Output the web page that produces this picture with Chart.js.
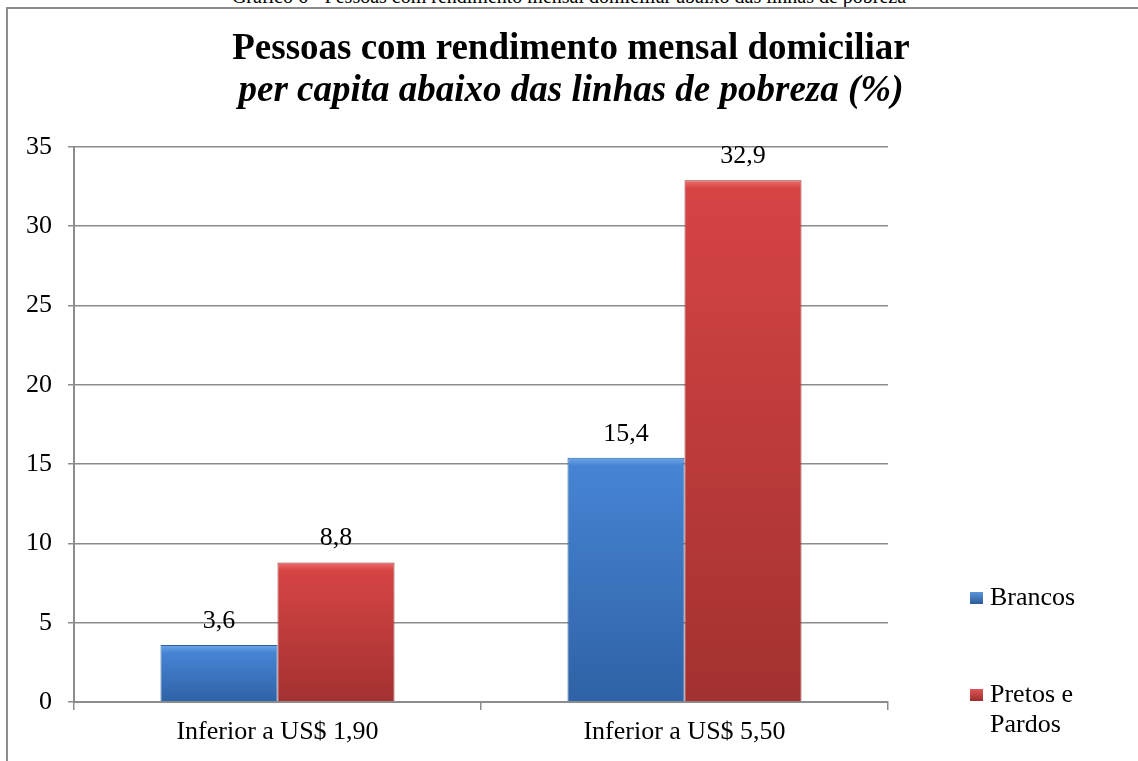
<!DOCTYPE html>
<html>
<head>
<meta charset="utf-8">
<script src="https://cdn.jsdelivr.net/npm/chart.js@4"></script>
<style>
  body { margin: 0; background: #fff; overflow: hidden; }
  #caption {
    position: absolute; left: 0; top: -15px; width: 1138px; text-align: center;
    font-family: "Liberation Serif", serif; font-size: 20px; color: #000;
  }
  #box {
    position: absolute; left: 6px; top: 7px; width: 1300px; height: 900px;
    border: 2px solid #8c8c8c;
  }
  #wrap { position: absolute; left: 0; top: 0; width: 1138px; height: 761px; }
</style>
</head>
<body>
<div id="caption">Gráfico 6 - Pessoas com rendimento mensal domiciliar abaixo das linhas de pobreza</div>
<div id="box"></div>
<div id="wrap"><canvas id="myChart"></canvas></div>
<script>
const categories = ['Inferior a US$ 1,90', 'Inferior a US$ 5,50'];
const brancos = [3.6, 15.4];
const pretosPardos = [8.8, 32.9];
const seriesNames = ['Brancos', ['Pretos e', 'Pardos']];

const serif = '"Liberation Serif", "Times New Roman", serif';

function barGradient(ctx, top, bottom, base) {
  const chart = ctx.chart;
  const y = chart.scales.y;
  if (!y || !ctx.parsed) return base;
  const yTop = y.getPixelForValue(ctx.parsed.y);
  const yBot = y.getPixelForValue(0);
  if (!isFinite(yTop) || !isFinite(yBot) || yTop === yBot) return base;
  const g = chart.ctx.createLinearGradient(0, yTop, 0, yBot);
  g.addColorStop(0, top);
  g.addColorStop(Math.min(0.5, 8 / (yBot - yTop)), base);
  g.addColorStop(1, bottom);
  return g;
}

// value labels with comma decimals
const valueLabels = {
  id: 'valueLabels',
  afterDatasetsDraw(chart) {
    const c = chart.ctx;
    c.save();
    c.font = '26px ' + serif;
    c.fillStyle = '#000';
    c.textAlign = 'center';
    c.textBaseline = 'alphabetic';
    chart.data.datasets.forEach((ds, i) => {
      chart.getDatasetMeta(i).data.forEach((bar, j) => {
        c.fillText(ds.data[j].toFixed(1).replace('.', ','), bar.x, bar.y - 17);
      });
    });
    c.restore();
  }
};

// legend at the right, with wrapped label
const sideLegend = {
  id: 'sideLegend',
  afterDraw(chart) {
    const c = chart.ctx;
    const x = chart.chartArea.right + 82;
    const baselines = [605, 702];
    c.save();
    c.font = '26px ' + serif;
    c.textBaseline = 'alphabetic';
    chart.data.datasets.forEach((ds, i) => {
      const b = baselines[i];
      const g = c.createLinearGradient(0, b - 13, 0, b - 1);
      g.addColorStop(0, ds.legendTop);
      g.addColorStop(1, ds.legendBottom);
      c.fillStyle = g;
      c.fillRect(x, b - 13, 13, 12);
      c.fillStyle = '#000';
      const lines = [].concat(seriesNames[i]);
      lines.forEach((t, k) => c.fillText(t, x + 20, b + k * 30));
    });
    c.restore();
  }
};

const data = {
  labels: categories,
  datasets: [
    {
      label: 'Brancos',
      data: brancos,
      backgroundColor: ctx => barGradient(ctx, '#6ea6e8', '#2f62a6', '#4684d3'),
      borderColor: '#2f5f9e',
      borderWidth: 1,
      legendTop: '#5b95dc',
      legendBottom: '#2c5a98'
    },
    {
      label: 'Pretos e Pardos',
      data: pretosPardos,
      backgroundColor: ctx => barGradient(ctx, '#ee7070', '#a33131', '#d64444'),
      borderColor: '#9a2e2e',
      borderWidth: 1,
      legendTop: '#e05656',
      legendBottom: '#9a2e2e'
    }
  ]
};

const config = {
  type: 'bar',
  data: data,
  plugins: [valueLabels, sideLegend],
  options: {
    responsive: true,
    maintainAspectRatio: false,
    animation: false,
    categoryPercentage: 0.575,
    barPercentage: 1,
    layout: { padding: { left: 4, right: 0, top: 0, bottom: 0 } },
    plugins: {
      legend: { display: false },
      tooltip: { enabled: false },
      title: {
        display: true,
        text: 'Pessoas com rendimento mensal domiciliar',
        color: '#000',
        font: { family: serif, size: 37, weight: 'bold', lineHeight: 1.12 },
        padding: { top: 29, bottom: 0 }
      },
      subtitle: {
        display: true,
        text: 'per capita abaixo das linhas de pobreza (%)',
        color: '#000',
        font: { family: serif, size: 37, style: 'italic', weight: 'bold', lineHeight: 1.12 },
        padding: { top: 0, bottom: 35 }
      }
    },
    scales: {
      x: {
        afterFit: s => { s.height = 59; },
        grid: { display: true, drawOnChartArea: false, offset: true, color: '#8c8c8c', lineWidth: 1.5, tickLength: 8 },
        border: { color: '#8c8c8c', width: 2 },
        ticks: { color: '#000', font: { family: serif, size: 26 }, padding: 7 }
      },
      y: {
        min: 0,
        max: 35,
        afterFit: s => { s.width = 70; },
        ticks: { stepSize: 5, color: '#000', font: { family: serif, size: 26 }, padding: 16 },
        grid: { color: '#8c8c8c', lineWidth: 1.5, tickLength: 6 },
        border: { color: '#8c8c8c', width: 2 }
      },
      // empty axis reserving the legend column on the right
      side: {
        type: 'linear',
        position: 'right',
        min: 0,
        max: 35,
        afterFit: s => { s.width = 250; },
        ticks: { display: false },
        grid: { display: false },
        border: { display: false }
      }
    }
  }
};

new Chart(document.getElementById('myChart'), config);
</script>
</body>
</html>
